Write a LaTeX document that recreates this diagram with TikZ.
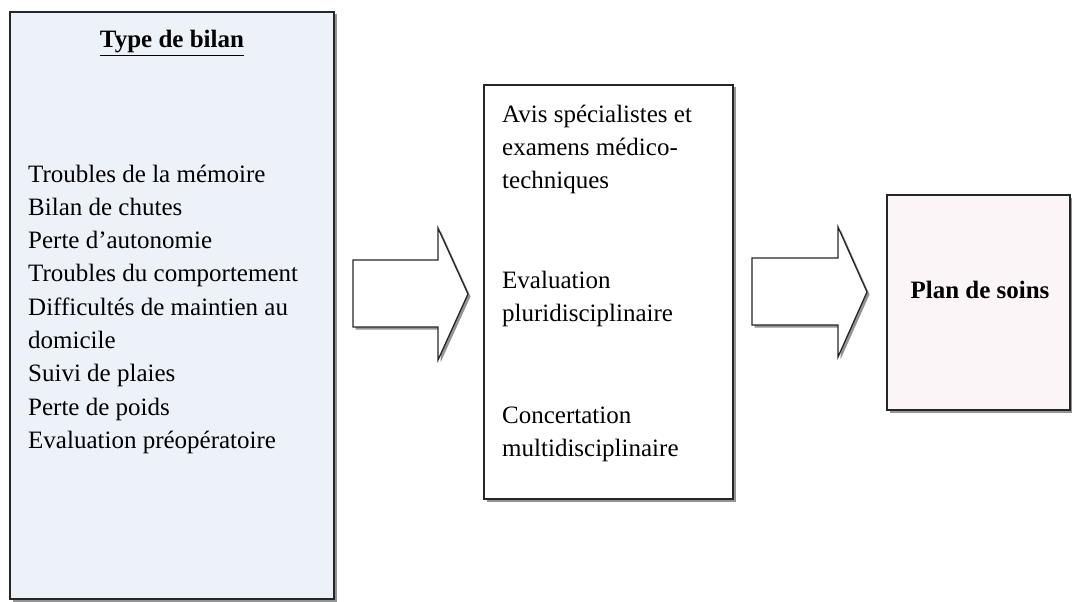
\documentclass[tikz,border=0pt]{standalone}
\usepackage{fontspec}
\setmainfont{Liberation Serif}
\usetikzlibrary{calc,positioning,shadows}
\definecolor{bilanblue}{rgb}{0.93,0.95,0.975}
\definecolor{soinspink}{rgb}{0.985,0.96,0.97}
\definecolor{traitgris}{rgb}{0.15,0.15,0.15}
\tikzset{
  ombre/.style={
    drop shadow={shadow xshift=2.5pt,shadow yshift=-2.5pt,fill=black!60,opacity=.7}
  },
  cadre/.style={
    draw=traitgris,
    line width=1.4pt,
    inner sep=0pt,
    ombre
  },
  texte/.style={
    font=\fontsize{25}{33.3}\selectfont,
    inner sep=0pt,
    anchor=base west
  },
  titre/.style={
    font=\fontsize{25}{33.3}\selectfont\bfseries,
    inner sep=0pt,
    anchor=base
  },
  fleche/.style={
    draw=traitgris,
    line width=1.3pt,
    fill=white,
    line join=miter,
    ombre
  }
}
\begin{document}
\begin{tikzpicture}[x=1pt,y=-1pt]
\useasboundingbox (0,0) rectangle (1072,602);
% boites
\node[cadre,fill=bilanblue,minimum width=324pt,minimum height=587pt] (bilan) at (172,305.5) {};
\node[cadre,fill=white,minimum width=249pt,minimum height=414pt] (avis) at (608.5,292) {};
\node[cadre,fill=soinspink,minimum width=183pt,minimum height=215pt] (soins) at (978.5,302.5) {};
% type de bilan
\node[titre] (typ) at (172,48) {\underline{Type de bilan}};
\foreach \t [count=\i] in {Troubles de la mémoire,Bilan de chutes,Perte d’autonomie,
  Troubles du comportement,Difficultés de maintien au,domicile,Suivi de plaies,
  Perte de poids,Evaluation préopératoire}
  \node[texte] (b\i) at (28,{182+33.3*(\i-1)}) {\t};
% avis
\node[texte] (a1) at (502,122) {Avis spécialistes et};
\node[texte] (a2) at (502,155) {examens médico-};
\node[texte] (a3) at (502,188) {techniques};
\node[texte] (e1) at (502,288) {Evaluation};
\node[texte] (e2) at (502,321) {pluridisciplinaire};
\node[texte] (c1) at (502,423) {Concertation};
\node[texte] (c2) at (502,456) {multidisciplinaire};
% plan
\node[titre] (plan) at (980,298) {Plan de soins};
% fleches
\coordinate (f1) at (353,260);
\coordinate (f2) at (752,258);
\draw[fleche] (f1) -- ++(85,0) -- ++(0,-32) -- ++(30,66) -- ++(-30,66) -- ++(0,-33) -- ++(-85,0) -- cycle;
\draw[fleche] (f2) -- ++(86,0) -- ++(0,-31) -- ++(29,65) -- ++(-29,65) -- ++(0,-32) -- ++(-86,0) -- cycle;
\end{tikzpicture}
\end{document}
